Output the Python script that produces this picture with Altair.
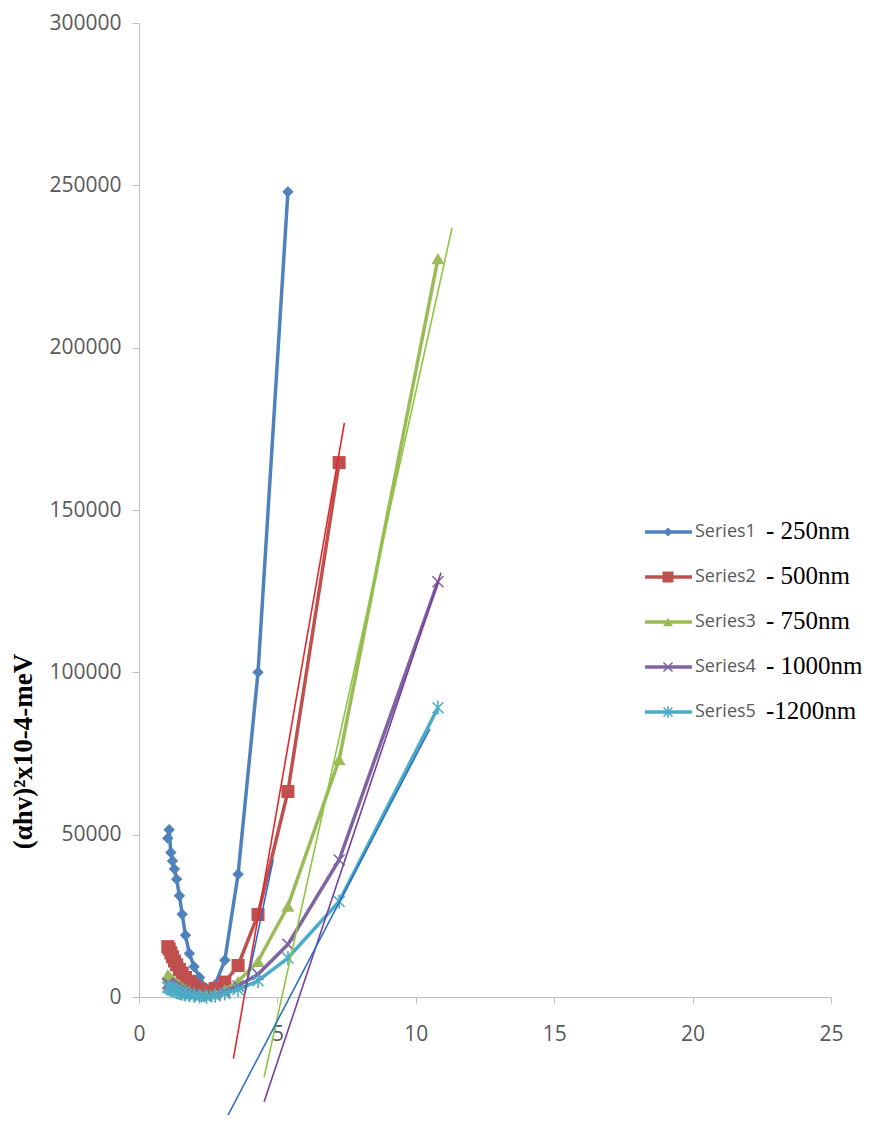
import altair as alt
import pandas as pd

# photon energy hv (eV) sampled for all series
hv = [1.04, 1.09, 1.15, 1.21, 1.28, 1.36, 1.46, 1.56, 1.68, 1.82, 1.99, 2.19,
      2.44, 2.75, 3.10, 3.58, 4.30, 5.38, 7.23, 10.80]

series_names = ["Series1", "Series2", "Series3", "Series4", "Series5"]
suffixes = ["- 250nm", "- 500nm", "- 750nm", "- 1000nm", "-1200nm"]

s1 = [48900, 51500, 44500, 41900, 39400, 36300, 31200, 25500, 19000, 13400, 9300, 6000,
      2600, 3800, 11300, 37800, 100000, 248000]
s2 = [15500, 14800, 13600, 12400, 11100, 9900, 8500, 7300, 6000, 4800, 3600, 2500,
      1700, 2600, 4600, 9700, 25400, 63300, 164600]
s3 = [6800, 6300, 5800, 5300, 4800, 4300, 3700, 3100, 2500, 1900, 1400, 900,
      600, 1000, 2200, 4800, 11000, 28000, 73100, 227400]
s4 = [4200, 3900, 3600, 3300, 2900, 2600, 2200, 1900, 1500, 1100, 800, 500,
      300, 600, 1600, 3400, 7000, 16200, 42200, 127900]
s5 = [3000, 2800, 2500, 2200, 1900, 1600, 1300, 1000, 800, 600, 400, 200,
      100, 400, 1100, 2300, 5000, 12000, 29400, 89100]
series_vals = [s1, s2, s3, s4, s5]

# hand-drawn tangent lines (data coordinates of end points)
tan_x1 = [3.41, 4.52, 4.52, 2.86, 3.83]
tan_y1 = [-19000, -24700, -32300, -42200, 1100]
tan_x2 = [7.42, 11.31, 10.91, 10.51, 4.85]
tan_y2 = [176800, 236900, 130700, 82600, 42400]

# ---------------- styles ----------------
colors = ["#4F81BD", "#C0504D", "#9BBB59", "#8064A2", "#4BACC6"]
tan_colors = ["#E0282E", "#8CC63E", "#7A3E9D", "#2F6FC8", "#2F6FC8"]
X_PATH = "M-1,-1L1,1M-1,1L1,-1"
STAR_PATH = "M-1,-1L1,1M-1,1L1,-1M0,-1.3L0,1.3"
shapes = ["diamond", "square", "triangle-up", X_PATH, STAR_PATH]
filled = [True, True, True, False, False]
sizes = [130, 170, 170, 120, 120]
leg_sizes = [80, 120, 100, 80, 80]

xscale = alt.Scale(domain=[0, 25], nice=False, zero=False)
yscale = alt.Scale(domain=[0, 300000], nice=False, zero=False)
xaxis = alt.Axis(values=[0, 5, 10, 15, 20, 25], tickSize=6, labelPadding=20,
                 title=None, format="d", labelFlush=False)
ytitle = "(αhv)²x10-4-meV"
yaxis = alt.Axis(values=[0, 50000, 100000, 150000, 200000, 250000, 300000],
                 format="d", tickSize=7, labelPadding=11, labelFlush=False,
                 title=ytitle, titleFont="Liberation Serif", titleFontWeight="bold",
                 titleFontSize=27, titleColor="black", titleX=-102, titleY=728,
                 titleAlign="center", titleBaseline="bottom")

layers = []
for i, (name, vals) in enumerate(zip(series_names, series_vals)):
    d = pd.DataFrame({"hv": hv[:len(vals)], "val": vals, "series": name})
    base = alt.Chart(d).encode(
        x=alt.X("hv:Q", scale=xscale, axis=xaxis, title=None),
        y=alt.Y("val:Q", scale=yscale, axis=yaxis, title=ytitle),
    )
    layers.append(base.mark_line(color=colors[i], strokeWidth=3.5,
                                 interpolate="linear"))
    if filled[i]:
        layers.append(base.mark_point(shape=shapes[i], filled=True, opacity=1,
                                      color=colors[i], size=sizes[i]))
    else:
        layers.append(base.mark_point(shape=shapes[i], filled=False, opacity=1,
                                      color=colors[i], size=sizes[i], strokeWidth=1.6))

tan_df = pd.DataFrame({"x1": tan_x1, "y1": tan_y1, "x2": tan_x2, "y2": tan_y2,
                       "k": list(range(len(tan_x1)))})
for k in range(len(tan_x1)):
    layers.append(
        alt.Chart(tan_df).transform_filter(alt.datum.k == k)
        .mark_rule(color=tan_colors[k], strokeWidth=1.6)
        .encode(
            x=alt.X("x1:Q", scale=xscale, axis=xaxis, title=None),
            x2="x2:Q",
            y=alt.Y("y1:Q", scale=yscale, axis=yaxis, title=ytitle),
            y2="y2:Q",
        )
    )

# ---------------- legend ----------------
for i in range(5):
    yv = 509 + 45 * i
    ld = pd.DataFrame({"name": [series_names[i]], "suffix": [suffixes[i]]})
    lc = alt.Chart(ld)
    layers.append(lc.mark_rule(color=colors[i], strokeWidth=3.5).encode(
        x=alt.value(506), x2=alt.value(553), y=alt.value(yv)))
    layers.append(lc.mark_point(shape=shapes[i], filled=filled[i], opacity=1,
                                color=colors[i], size=leg_sizes[i],
                                strokeWidth=1.6).encode(
        x=alt.value(529), y=alt.value(yv)))
    layers.append(lc.mark_text(align="left", baseline="middle", font="Open Sans",
                               fontSize=18, color="#595959").encode(
        x=alt.value(556), y=alt.value(yv), text="name:N"))
    layers.append(lc.mark_text(align="left", baseline="middle",
                               font="Liberation Serif", fontSize=25,
                               color="black").encode(
        x=alt.value(627), y=alt.value(yv - 1), text="suffix:N"))

chart = alt.layer(*layers).properties(
    width=692, height=974,
    autosize=alt.AutoSizeParams(type="none"),
    padding={"left": 131, "top": 15, "right": 31, "bottom": 118},
).configure_view(stroke=None).configure_axis(
    grid=False, domainColor="#BFBFBF", tickColor="#BFBFBF",
    labelColor="#595959", labelFont="Open Sans", labelFontSize=21,
)

chart.save("out.html", embed_options={"renderer": "svg", "actions": False})
